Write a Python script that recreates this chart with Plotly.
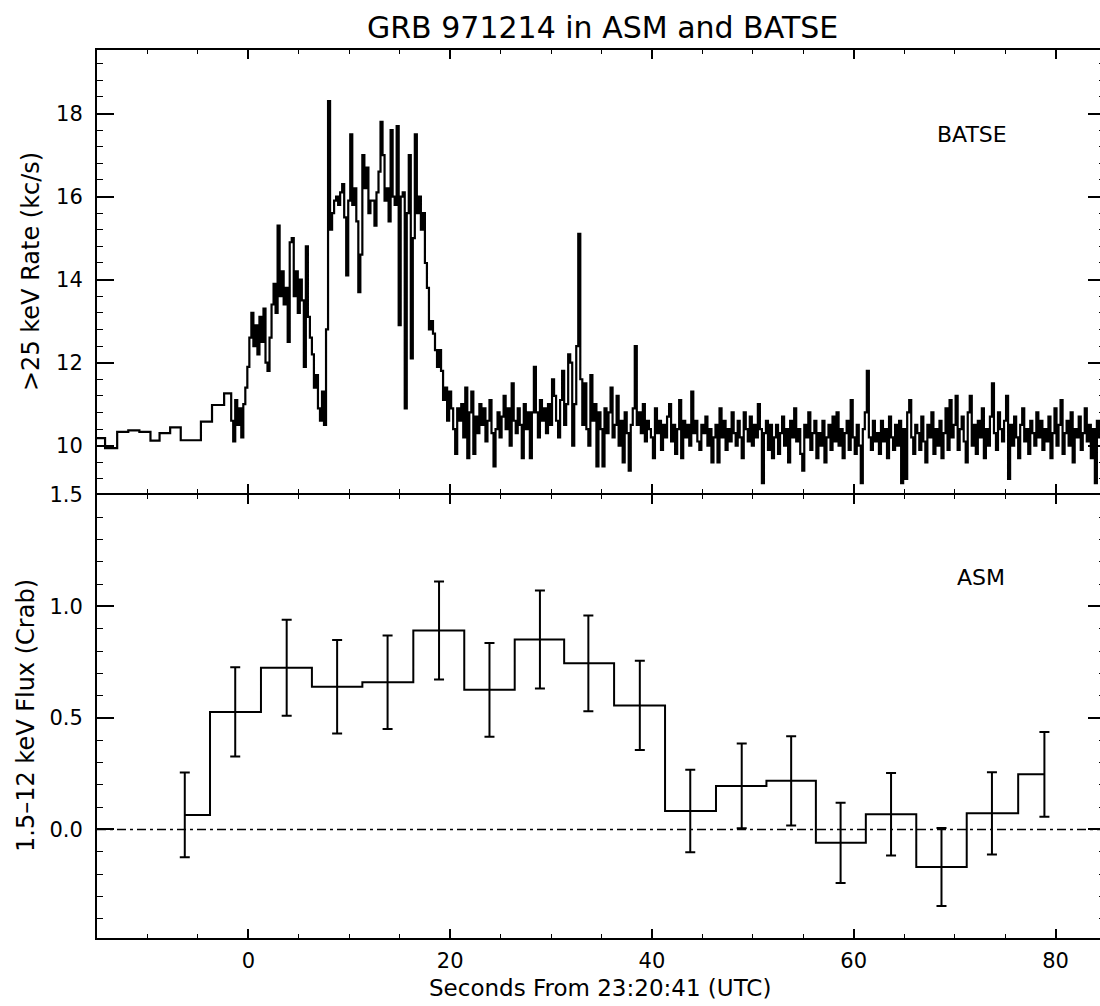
import numpy as np
import plotly.graph_objects as go

# ---------------- BATSE >25 keV rate (kc/s) ----------------
# coarse pre-burst bins: start times (s) and rates
batse_coarse_t = [-15.0, -14.2, -13.0, -11.9, -10.8, -9.7, -8.8, -7.75, -6.7, -5.7, -4.7, -3.6, -2.4]
batse_coarse_rate = [10.18, 9.94, 10.33, 10.37, 10.33, 10.12, 10.30, 10.44, 10.13, 10.13, 10.58, 10.98, 11.26]

# fine bins start at -1.7 s, 0.2 s wide
BATSE_FINE_T0 = -1.7
BATSE_FINE_DT = 0.2
batse_fine_rate = [
    10.6, 10.1, 11.1, 10.5, 10.9, 10.2, 11.0, 11.4, 11.9, 12.6,
    13.2, 12.4, 12.9, 12.2, 13.1, 12.5, 13.3, 12.0, 11.8, 12.6,
    13.4, 13.9, 13.2, 15.3, 13.6, 14.2, 13.4, 13.8, 12.5, 14.9,
    15.0, 13.6, 14.2, 13.2, 14.0, 13.5, 11.9, 14.8, 13.1, 12.6,
    12.2, 11.4, 11.7, 10.9, 10.6, 11.3, 10.5, 12.8, 18.3, 15.2,
    15.6, 15.9, 16.0, 15.8, 16.1, 16.3, 15.5, 14.1, 15.9, 17.5,
    15.8, 16.2, 15.4, 13.7, 14.6, 17.0, 16.2, 16.7, 15.6, 15.9,
    15.9, 15.3, 16.1, 16.6, 17.8, 17.0, 15.9, 16.2, 15.4, 17.6,
    16.0, 15.8, 17.7, 12.9, 16.0, 16.1, 10.9, 15.6, 17.0, 12.1,
    15.0, 17.5, 15.6, 16.0, 15.2, 15.6, 14.4, 13.8, 12.8, 13.0,
    12.7, 12.3, 11.9, 12.3, 11.8, 11.1, 11.4, 10.6, 11.3, 10.9,
    10.4, 9.8, 10.9, 10.6, 11.0, 10.2, 11.4, 9.7, 10.8, 11.3,
    9.8, 10.7, 10.3, 11.0, 10.5, 10.9, 10.1, 10.6, 11.1, 10.3,
    9.5, 10.4, 10.8, 10.2, 10.7, 11.2, 10.4, 10.9, 10.0, 11.5,
    10.6, 10.3, 10.9, 10.5, 9.7, 11.0, 10.4, 10.8, 9.7, 10.8,
    11.9, 10.8, 10.2, 11.1, 10.6, 10.9, 10.3, 11.0, 10.5, 11.6,
    11.2, 10.6, 10.2, 11.1, 11.8, 10.5, 11.0, 12.2, 12.0, 10.0,
    11.0, 12.4, 15.1, 11.6, 10.5, 11.5, 10.4, 10.0, 11.7, 10.6,
    11.0, 9.5, 10.8, 10.4, 9.5, 10.9, 10.3, 10.8, 11.4, 10.2,
    10.5, 11.2, 10.0, 10.6, 9.6, 10.8, 10.3, 9.4, 10.5, 10.9,
    12.4, 10.5, 10.8, 10.3, 11.0, 10.1, 10.6, 10.4, 10.2, 9.7,
    10.9, 10.3, 10.6, 9.9, 10.5, 10.2, 10.7, 11.0, 10.1, 10.5,
    9.8, 10.4, 11.1, 9.7, 10.6, 10.2, 10.5, 10.0, 11.3, 10.3,
    10.6, 10.1, 9.9, 10.5, 10.3, 10.7, 10.0, 10.4, 9.6, 10.2,
    10.5, 9.6, 10.9, 10.2, 10.6, 9.9, 10.4, 10.1, 10.8, 10.3,
    10.0, 10.6, 10.2, 9.7, 10.8, 10.4, 10.1, 10.7, 10.0, 10.5,
    10.2, 11.0, 10.4, 9.1, 10.3, 10.6, 9.9, 10.5, 9.7, 10.2,
    10.5, 9.8, 10.3, 10.7, 10.0, 10.4, 9.6, 10.6, 10.2, 10.9,
    10.1, 10.4, 9.8, 9.4, 10.5, 10.2, 10.8, 9.9, 10.3, 10.6,
    9.7, 10.3, 10.0, 10.6, 9.6, 10.2, 10.5, 9.9, 10.7, 10.1,
    10.8, 10.0, 10.4, 9.7, 10.3, 10.6, 9.9, 11.1, 10.2, 9.8,
    10.5, 10.0, 9.1, 10.4, 10.8, 11.8, 10.2, 9.9, 10.6, 10.1,
    10.3, 9.8, 10.6, 10.1, 10.4, 9.7, 10.7, 10.2, 9.9, 10.5,
    10.0, 10.6, 9.1, 10.4, 9.2, 10.8, 11.1, 10.2, 9.8, 10.5,
    10.3, 9.9, 10.7, 10.1, 9.6, 10.5, 10.2, 10.8, 9.8, 10.4,
    10.0, 10.6, 9.7, 10.3, 10.9, 9.9, 11.1, 10.2, 10.5, 11.2,
    9.9, 10.4, 10.7, 10.1, 9.6, 10.8, 11.2, 10.0, 10.5, 9.8,
    10.6, 10.2, 10.9, 9.7, 10.4, 10.0, 10.7, 11.5, 10.3, 9.9,
    10.8, 10.4, 10.1, 10.6, 11.2, 9.2, 10.5, 10.0, 10.7, 10.2,
    9.7, 10.5, 10.9, 10.1, 10.4, 9.8, 10.6, 10.3, 10.0, 10.8,
    10.2, 10.6, 9.9, 10.4, 10.1, 10.7, 9.7, 10.3, 10.9, 10.0,
    10.5, 11.1, 9.8, 10.3, 10.6, 10.0, 10.8, 9.6, 10.4, 10.2,
    10.7, 9.9, 10.3, 10.9, 10.1, 10.5, 9.7, 10.4, 9.1, 10.6,
    10.2, 10.2,
]

# ---------------- RXTE ASM 1.5-12 keV flux (Crab) ----------------
asm_t = [-6.3, -1.3, 3.8, 8.8, 13.8, 18.9, 23.9, 28.9, 33.7, 38.8,
         43.8, 48.9, 53.8, 58.7, 63.7, 68.7, 73.7, 78.9]
asm_flux = [0.065, 0.527, 0.725, 0.640, 0.660, 0.892, 0.626, 0.852, 0.745, 0.556,
            0.083, 0.195, 0.218, -0.060, 0.068, -0.169, 0.072, 0.247]
asm_err = [0.19, 0.20, 0.215, 0.21, 0.21, 0.22, 0.21, 0.22, 0.215, 0.20,
           0.185, 0.19, 0.20, 0.18, 0.185, 0.175, 0.185, 0.19]

# axis ranges and tick labels
x_range = [-15.0, 84.41]
rate_range = [8.86, 19.53]
flux_range = [-0.487, 1.5]
x_tickvals = [0, 20, 40, 60, 80]
rate_tickvals = [10, 12, 14, 16, 18]
flux_tickvals = [0.0, 0.5, 1.0, 1.5]

FONT = "DejaVu Sans"
W, H = 1100, 1006
ML, MR, MT, MB = 97, 0, 50, 68
PW, PH = W - ML - MR, H - MT - MB
GAP = 1.0 / PH  # half of the shared panel border width, in paper units


def px(xp):
    return (xp - ML) / PW


def py(yp):
    return (H - MB - yp) / PH


fine_t = [BATSE_FINE_T0 + BATSE_FINE_DT * i for i in range(len(batse_fine_rate))]
batse_t = list(batse_coarse_t) + fine_t
batse_rate = list(batse_coarse_rate) + list(batse_fine_rate)

fig = go.Figure()

# BATSE light curve drawn as a histogram
fig.add_trace(go.Scatter(
    x=batse_t, y=batse_rate, mode="lines",
    line=dict(color="black", width=2.2, shape="hv"),
    xaxis="x", yaxis="y", hoverinfo="skip"))

fig.add_trace(go.Scatter(
    x=asm_t, y=asm_flux, mode="lines",
    line=dict(color="black", width=2, shape="hvh"),
    xaxis="x2", yaxis="y2", hoverinfo="skip"))

fig.add_trace(go.Scatter(
    x=asm_t, y=asm_flux, mode="markers",
    marker=dict(size=1, color="rgba(0,0,0,0)"),
    error_y=dict(type="data", array=asm_err, width=5, thickness=2, color="black"),
    xaxis="x2", yaxis="y2", hoverinfo="skip"))

# carriers for the right-hand tick axes
fig.add_trace(go.Scatter(x=[x_range[0]], y=[rate_range[0]], mode="markers",
                         marker=dict(color="rgba(0,0,0,0)"), xaxis="x", yaxis="y3", hoverinfo="skip"))
fig.add_trace(go.Scatter(x=[x_range[0]], y=[flux_range[0]], mode="markers",
                         marker=dict(color="rgba(0,0,0,0)"), xaxis="x2", yaxis="y4", hoverinfo="skip"))

tickfont = dict(family=FONT, size=21, color="black")

xcommon = dict(
    range=x_range, showgrid=False, zeroline=False,
    showline=True, linecolor="black", linewidth=2, mirror="ticks",
    ticks="inside", ticklen=9, tickwidth=1.5, tickcolor="black",
    tickmode="array", tickvals=x_tickvals,
    minor=dict(dtick=5, tick0=0, ticks="inside", ticklen=4, tickwidth=1.2, tickcolor="black", showgrid=False),
    tickfont=tickfont,
)

ycommon = dict(
    showgrid=False, zeroline=False,
    showline=True, linecolor="black", linewidth=2, mirror=False,
    ticks="inside", ticklen=17, tickwidth=1.5, tickcolor="black",
    tickfont=tickfont, ticklabelstandoff=8,
)

yright = dict(
    showgrid=False, zeroline=False, showline=False, side="right",
    ticks="inside", ticklen=12, tickwidth=1.5, tickcolor="black",
    showticklabels=False,
)

fig.update_layout(
    width=W, height=H,
    margin=dict(l=ML, r=MR, t=MT, b=MB),
    paper_bgcolor="white", plot_bgcolor="white",
    showlegend=False,
    xaxis=dict(domain=[0, 1], anchor="y", showticklabels=False, **xcommon),
    xaxis2=dict(domain=[0, 1], anchor="y2", showticklabels=True, ticklabelstandoff=3, **xcommon),
    yaxis=dict(domain=[0.5 + GAP, 1], anchor="x", range=rate_range,
               tickmode="array", tickvals=rate_tickvals,
               minor=dict(dtick=0.4, tick0=0, ticks="inside", ticklen=6, tickwidth=1.2, tickcolor="black", showgrid=False),
               **ycommon),
    yaxis2=dict(domain=[0, 0.5 - GAP], anchor="x2", range=flux_range,
                tickmode="array", tickvals=flux_tickvals, tickformat=".1f",
                minor=dict(dtick=0.1, tick0=0, ticks="inside", ticklen=6, tickwidth=1.2, tickcolor="black", showgrid=False),
                **ycommon),
    yaxis3=dict(overlaying="y", anchor="x", range=rate_range,
                tickmode="array", tickvals=rate_tickvals,
                minor=dict(dtick=0.4, tick0=0, ticks="inside", ticklen=1, tickwidth=1.2, tickcolor="black"),
                **yright),
    yaxis4=dict(overlaying="y2", anchor="x2", range=flux_range,
                tickmode="array", tickvals=flux_tickvals,
                minor=dict(dtick=0.1, tick0=0, ticks="inside", ticklen=1, tickwidth=1.2, tickcolor="black"),
                **yright),
)

# zero level in the ASM panel
fig.add_shape(type="line", xref="paper", x0=0, x1=1, yref="y2", y0=0, y1=0,
              line=dict(color="black", width=1.5, dash="9px,4px,3px,4px"))

annots = [
    dict(text="GRB 971214 in ASM and BATSE", x=px(602), y=py(27), size=30, angle=0),
    dict(text="Seconds From 23:20:41 (UTC)", x=px(600), y=py(988), size=23, angle=0),
    dict(text=">25 keV Rate (kc/s)", x=px(31), y=py(272), size=24, angle=-90),
    dict(text="1.5\u201312 keV Flux (Crab)", x=px(26), y=py(716), size=24, angle=-90),
    dict(text="BATSE", x=px(972), y=py(134), size=22, angle=0),
    dict(text="ASM", x=px(981), y=py(577), size=22, angle=0),
]
for a in annots:
    fig.add_annotation(text=a["text"], xref="paper", yref="paper", x=a["x"], y=a["y"],
                       xanchor="center", yanchor="middle", showarrow=False, textangle=a["angle"],
                       font=dict(family=FONT, size=a["size"], color="black"))

fig.write_html("out.html")
